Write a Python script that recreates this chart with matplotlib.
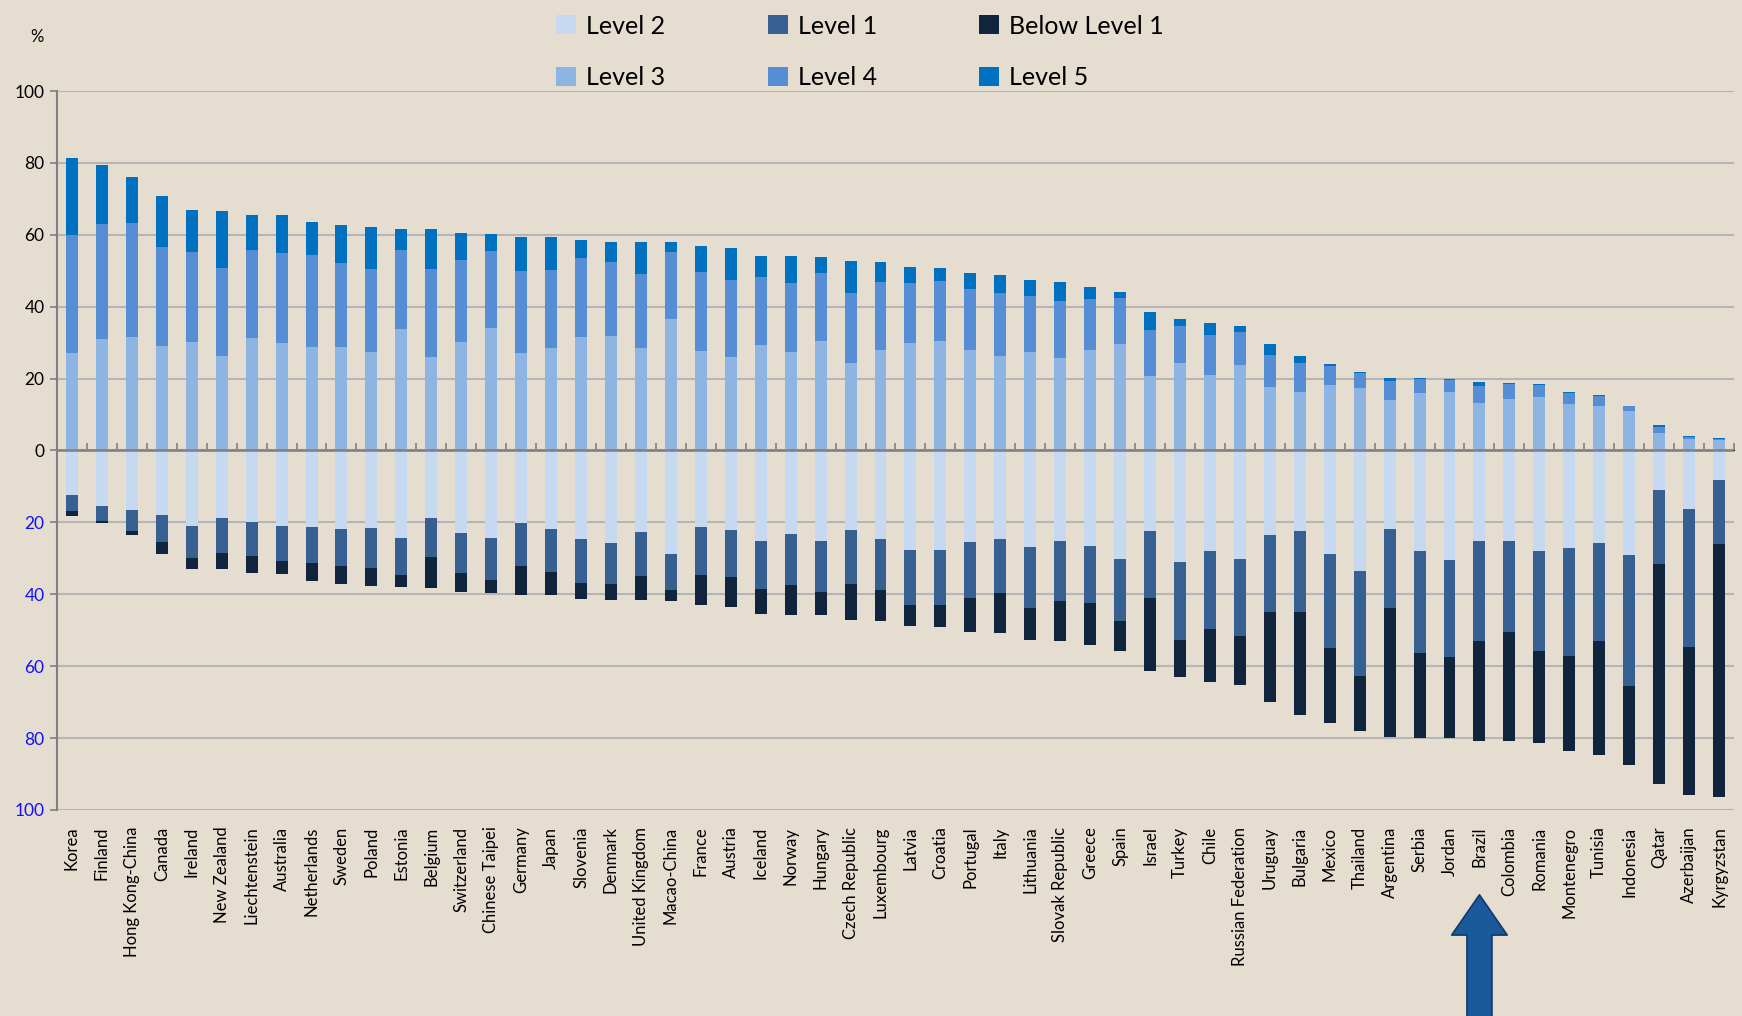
import matplotlib
matplotlib.use("Agg")
import matplotlib.pyplot as plt
import numpy as np

# countries, ordered as in the chart
countries = ["Korea", "Finland", "Hong Kong-China", "Canada", "Ireland", "New Zealand",
             "Liechtenstein", "Australia", "Netherlands", "Sweden", "Poland", "Estonia",
             "Belgium", "Switzerland", "Chinese Taipei", "Germany", "Japan", "Slovenia",
             "Denmark", "United Kingdom", "Macao-China", "France", "Austria", "Iceland",
             "Norway", "Hungary", "Czech Republic", "Luxembourg", "Latvia", "Croatia",
             "Portugal", "Italy", "Lithuania", "Slovak Republic", "Greece", "Spain",
             "Israel", "Turkey", "Chile", "Russian Federation", "Uruguay", "Bulgaria",
             "Mexico", "Thailand", "Argentina", "Serbia", "Jordan", "Brazil", "Colombia",
             "Romania", "Montenegro", "Tunisia", "Indonesia", "Qatar", "Azerbaijan",
             "Kyrgyzstan"]

# percentages of students at each level (above the zero line)
level3 = [27.1, 31.0, 31.5, 29.2, 30.1, 26.3, 31.2, 30.0, 28.8, 28.8, 27.4, 33.8,
          26.0, 30.3, 34.0, 27.1, 28.6, 31.6, 31.8, 28.6, 36.5, 27.8, 26.1, 29.4,
          27.5, 30.4, 24.3, 27.9, 29.8, 30.5, 27.9, 26.2, 27.3, 25.8, 27.9, 29.5,
          20.8, 24.3, 20.9, 23.9, 17.8, 16.2, 18.1, 17.3, 14.1, 15.9, 16.2, 13.2,
          14.4, 14.9, 12.9, 12.5, 10.9, 4.8, 3.2, 2.8]
level4 = [32.8, 32.0, 31.9, 27.3, 25.1, 24.6, 24.6, 25.0, 25.6, 23.4, 23.2, 22.0,
          24.4, 22.6, 21.4, 22.8, 21.5, 21.9, 20.6, 20.5, 18.6, 21.8, 21.3, 19.0,
          19.0, 18.9, 19.4, 18.9, 16.7, 16.6, 16.9, 17.5, 15.6, 15.7, 14.2, 12.8,
          12.6, 10.2, 11.1, 9.0, 8.9, 8.1, 5.4, 4.2, 5.1, 4.0, 3.5, 4.7,
          4.1, 3.3, 3.2, 2.6, 1.5, 1.7, 0.5, 0.4]
level5 = [21.6, 16.5, 12.7, 14.3, 11.6, 15.7, 9.8, 10.5, 9.1, 10.5, 11.5, 5.9,
          11.2, 7.5, 4.8, 9.6, 9.3, 5.1, 5.7, 8.9, 2.8, 7.2, 8.9, 5.8,
          7.6, 4.6, 9.0, 5.5, 4.5, 3.6, 4.6, 5.1, 4.4, 5.4, 3.4, 1.7,
          5.0, 2.1, 3.6, 1.6, 3.0, 2.1, 0.5, 0.2, 0.9, 0.2, 0.1, 1.1,
          0.4, 0.2, 0.2, 0.2, 0.1, 0.5, 0.2, 0.2]

# percentages below the zero line
level2 = [12.5, 15.5, 16.5, 17.9, 20.9, 18.7, 20.0, 21.1, 21.3, 21.9, 21.5, 24.4,
          18.9, 22.9, 24.3, 20.2, 21.9, 24.6, 25.7, 22.7, 28.9, 21.4, 22.0, 25.2,
          23.3, 25.3, 22.2, 24.6, 27.6, 27.6, 25.4, 24.5, 26.9, 25.2, 26.6, 30.2,
          22.5, 31.1, 28.0, 30.1, 23.4, 22.4, 28.9, 33.4, 21.8, 28.0, 30.5, 25.3,
          25.1, 27.9, 27.1, 25.6, 29.1, 11.1, 16.4, 8.1]
level1 = [4.4, 4.1, 6.0, 7.6, 9.0, 9.9, 9.4, 9.6, 9.9, 10.3, 11.3, 10.3,
          10.8, 11.1, 11.6, 12.0, 11.8, 12.4, 11.5, 12.3, 10.0, 13.3, 13.2, 13.4,
          14.0, 14.1, 15.0, 14.3, 15.3, 15.3, 15.7, 15.1, 17.0, 16.6, 15.8, 17.1,
          18.6, 21.5, 21.6, 21.6, 21.4, 22.4, 26.1, 29.2, 22.1, 28.3, 27.0, 27.7,
          25.4, 28.0, 30.2, 27.5, 36.5, 20.6, 38.4, 17.8]
below1 = [1.4, 0.6, 1.1, 3.4, 3.1, 4.5, 4.8, 3.7, 5.2, 4.9, 4.8, 3.3,
          8.6, 5.3, 3.7, 8.0, 6.6, 4.2, 4.5, 6.7, 3.0, 8.3, 8.3, 7.0,
          8.5, 6.5, 9.9, 8.5, 5.9, 6.2, 9.3, 11.2, 8.7, 11.1, 11.8, 8.5,
          20.3, 10.5, 14.7, 13.6, 25.2, 28.7, 20.9, 15.4, 35.8, 23.6, 22.6, 27.8,
          30.4, 25.5, 26.3, 31.5, 21.8, 61.0, 41.1, 70.5]

yticks = [-100, -80, -60, -40, -20, 0, 20, 40, 60, 80, 100]

bg = "#e6ddd1"
c_l2 = "#c6d9f1"
c_l3 = "#8db4e3"
c_l4 = "#558ed5"
c_l5 = "#0070c0"
c_l1 = "#366092"
c_b1 = "#10243e"

plt.rcParams['font.family'] = ['Lato', 'DejaVu Sans']

fig = plt.figure(figsize=(17.42, 10.16), dpi=100, facecolor=bg)
ax = fig.add_axes([0.0327, 0.2028, 0.9627, 0.7076])
ax.set_facecolor(bg)

x = np.arange(len(countries))
w = 0.4
l3 = np.array(level3)
l4 = np.array(level4)
l5 = np.array(level5)
l2 = np.array(level2)
l1 = np.array(level1)
b1 = np.array(below1)

h2 = ax.bar(x, -l2, w, color=c_l2, label="Level 2", zorder=3)
h1 = ax.bar(x, -l1, w, bottom=-l2, color=c_l1, label="Level 1", zorder=3)
hb = ax.bar(x, -b1, w, bottom=-(l2 + l1), color=c_b1, label="Below Level 1", zorder=3)
h3 = ax.bar(x, l3, w, color=c_l3, label="Level 3", zorder=3)
h4 = ax.bar(x, l4, w, bottom=l3, color=c_l4, label="Level 4", zorder=3)
h5 = ax.bar(x, l5, w, bottom=l3 + l4, color=c_l5, label="Level 5", zorder=3)

ax.set_xlim(-0.5, len(countries) - 0.5)
ax.set_ylim(-100, 100)
ax.set_yticks(yticks)
ax.set_yticklabels([str(abs(v)) for v in yticks], fontsize=12.5)
for t, v in zip(ax.get_yticklabels(), yticks):
    t.set_color("#1010ff" if v < 0 else "black")
ax.yaxis.grid(True, color="#b5b5b5", linewidth=1.5, zorder=0)
ax.tick_params(axis='y', length=5, width=1.2, color="#808080", pad=4)

for s in ["top", "right", "bottom"]:
    ax.spines[s].set_visible(False)
ax.spines["left"].set_color("#808080")
ax.spines["left"].set_linewidth(1.5)

# country labels at the bottom, no tick marks
ax.set_xticks(x)
ax.set_xticklabels(countries, rotation=90, fontsize=12, va='top')
ax.tick_params(axis='x', length=0, pad=12)

# zero line with category tick marks
ax.axhline(0, color="#808080", linewidth=1.8, zorder=4)
zero_ax = ax.secondary_xaxis(0.5)
zero_ax.set_xticks(np.arange(len(countries) + 1) - 0.5)
zero_ax.set_xticklabels([])
zero_ax.tick_params(length=5, width=1.2, color="#808080")
zero_ax.spines["bottom"].set_visible(False)

fig.text(0.021, 0.964, "%", fontsize=12, ha='center', va='center')

leg = fig.legend(handles=[h2, h3, h1, h4, hb, h5], ncol=3, frameon=False,
                 loc='upper left', bbox_to_anchor=(0.312, 0.998), fontsize=18,
                 handlelength=0.8, handleheight=0.8, handletextpad=0.4,
                 columnspacing=4.1, labelspacing=1.15, borderpad=0)

# arrow under Brazil
ib = countries.index("Brazil")
ax.annotate("", xy=(ib, -0.118), xytext=(ib, -0.30),
            xycoords=('data', 'axes fraction'), textcoords=('data', 'axes fraction'),
            annotation_clip=False,
            arrowprops=dict(arrowstyle="simple,head_length=1.45,head_width=2.0,tail_width=0.9",
                            mutation_scale=20, facecolor="#1a5a9c", edgecolor="#123a66",
                            linewidth=1.2, shrinkA=0, shrinkB=0))

fig.savefig("out.png", dpi=100, facecolor=bg)
